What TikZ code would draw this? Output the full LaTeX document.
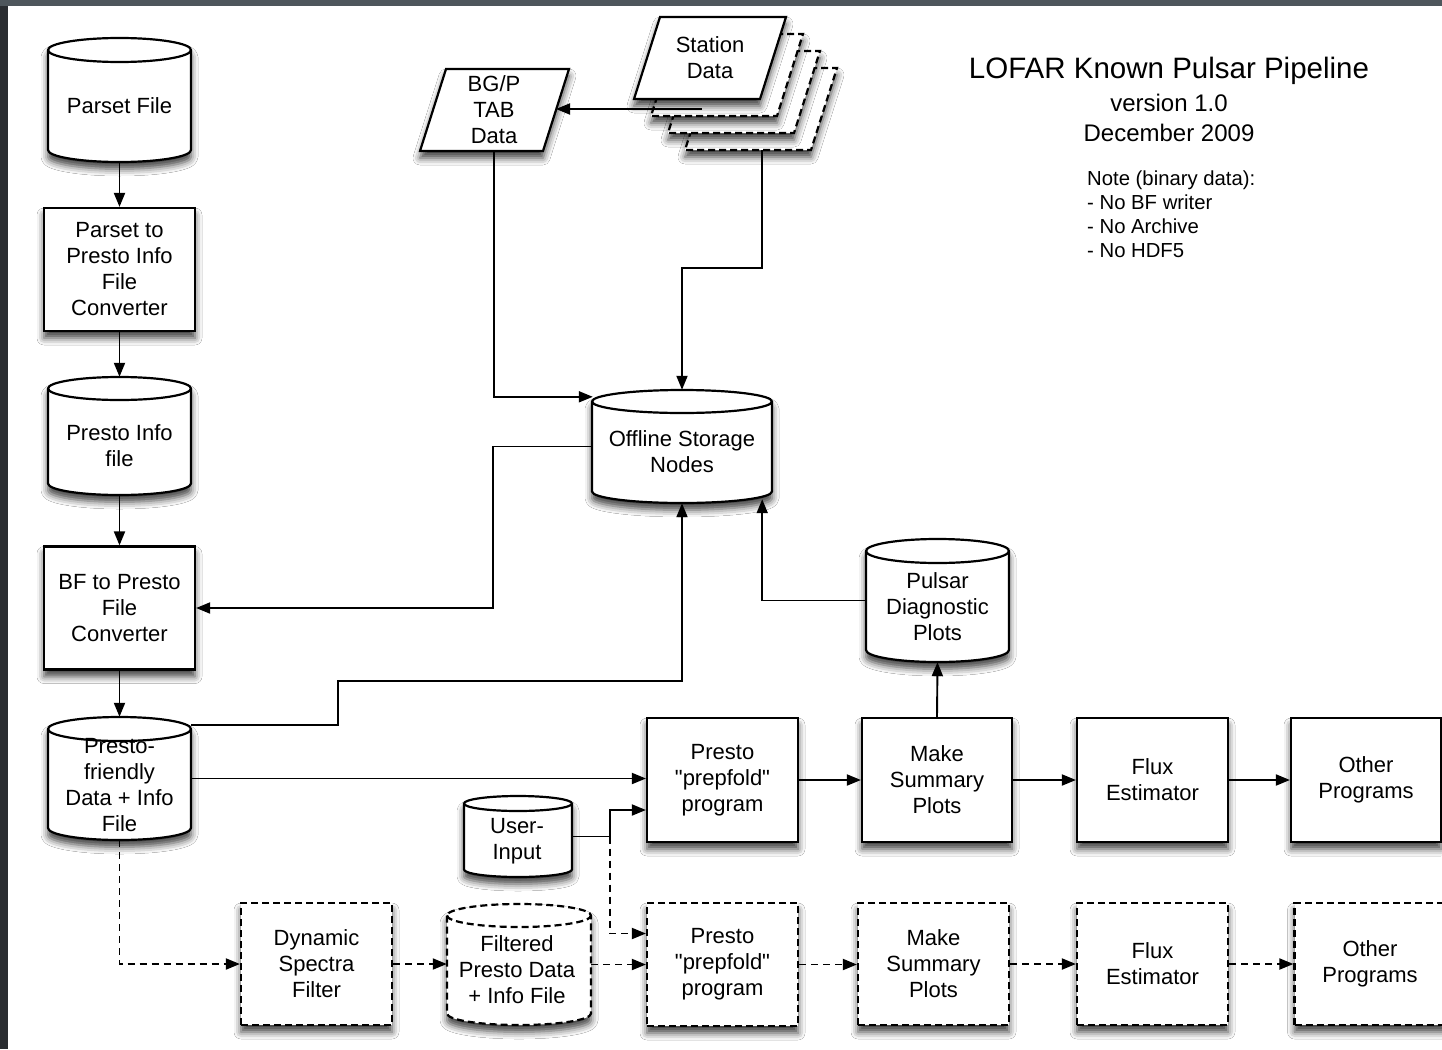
\documentclass[tikz,border=0pt]{standalone}
\usepackage{fontspec}
\setmainfont{Liberation Sans}
\usetikzlibrary{arrows.meta,calc,shadows.blur}

\definecolor{bgdark}{RGB}{42,45,49}
\definecolor{bgtop}{RGB}{78,86,92}

\tikzset{
  shad/.style={blur shadow={shadow xshift=0pt, shadow yshift=-7pt, shadow blur radius=7pt, shadow opacity=75}},
  lbl/.style={font=\fontsize{22}{26}\selectfont, align=center, inner sep=0pt},
  procbox/.style={draw=black, line width=2.2pt, fill=white, minimum width=151pt, minimum height=123pt, inner sep=0pt, align=center, font=\fontsize{22}{26}\selectfont, shad},
  dbox/.style={procbox, dash pattern=on 7pt off 4pt},
  shp/.style={draw=black, line width=2.2pt, fill=white, shad},
  dshp/.style={shp, dash pattern=on 7pt off 4pt},
  holder/.style={draw=none, inner sep=0pt, rectangle},
  cylbody/.style={draw=black, line width=2.2pt, fill=white, shad},
  cylline/.style={draw=black, line width=2.2pt},
  conn/.style={draw=black, line width=1.9pt, -{Triangle[length=14pt,width=11pt]}},
  dconn/.style={conn, dash pattern=on 7pt off 5pt},
}

% #1 x1, #2 y1 (top), #3 x2, #4 y2 (bottom), #5 ellipse half height, #6 extra style
\newcommand\DrawCyl[6]{%
  \pgfmathsetmacro\cylXc{(#1+#3)/2}%
  \pgfmathsetmacro\cylKx{0.5523*(#3-#1)/2}%
  \pgfmathsetmacro\cylKe{0.5523*#5}%
  \pgfmathsetmacro\cylYt{#2+#5}%
  \pgfmathsetmacro\cylYb{#4-#5}%
  \pgfmathsetmacro\cylYf{#2+2*#5}%
  \path[cylbody,#6] (#1,\cylYt) -- (#1,\cylYb)
     .. controls (#1,\cylYb+\cylKe) and (\cylXc-\cylKx,#4) .. (\cylXc,#4)
     .. controls (\cylXc+\cylKx,#4) and (#3,\cylYb+\cylKe) .. (#3,\cylYb)
     -- (#3,\cylYt)
     .. controls (#3,\cylYt-\cylKe) and (\cylXc+\cylKx,#2) .. (\cylXc,#2)
     .. controls (\cylXc-\cylKx,#2) and (#1,\cylYt-\cylKe) .. (#1,\cylYt) -- cycle;
  \path[cylline,#6] (#1,\cylYt)
     .. controls (#1,\cylYt+\cylKe) and (\cylXc-\cylKx,\cylYf) .. (\cylXc,\cylYf)
     .. controls (\cylXc+\cylKx,\cylYf) and (#3,\cylYt+\cylKe) .. (#3,\cylYt);
}
\newcommand\qq{\XeTeXglyph\XeTeXcharglyph"22\relax}

\begin{document}
\begin{tikzpicture}[x=1pt,y=-1pt]
\useasboundingbox (0,0) rectangle (1442,1049);
% frame
\fill[bgdark] (0,0) rectangle (1442,1049);
\fill[bgtop] (0,0) rectangle (1442,6);
\fill[white] (8,6) rectangle (1442,1049);

% ---------- title ----------
\node[font=\fontsize{29.5}{34}\selectfont, inner sep=0pt] (title) at (1169,71) {LOFAR Known Pulsar Pipeline};
\node[font=\fontsize{24}{30}\selectfont, align=center, inner sep=0pt] (ver) at (1169,118) {version 1.0\\December 2009};
\node[font=\fontsize{20.3}{24}\selectfont, align=left, anchor=north west, inner sep=0pt] (note) at (1087,171) {Note (binary data):\\- No BF writer\\- No Archive\\- No HDF5};

% ---------- data shapes (parallelograms) ----------
\path[shp] (446,69) -- (569,69) -- (543,151) -- (420,151) -- cycle;
\node[lbl, minimum width=100pt, minimum height=82pt] (bgp) at (494,110) {BG/P\\TAB\\Data};

\foreach \d in {51,34,17}
  \path[dshp] (660+\d,17+\d) -- (786+\d,17+\d) -- (760+\d,99+\d) -- (634+\d,99+\d) -- cycle;
\path[shp] (660,17) -- (786,17) -- (760,99) -- (634,99) -- cycle;
\node[lbl, minimum width=100pt, minimum height=82pt] (station) at (710,58) {Station\\Data};
\coordinate (st-out) at (702,109);
\coordinate (bgp-in) at (556,109);
\coordinate (st-bot) at (762,150);

% ---------- cylinders ----------
\DrawCyl{48}{38}{191}{162}{12}{}
\node[holder, minimum width=143pt, minimum height=124pt] (pfile) at (119.5,100) {};
\node[lbl] (pfile-t) at (119.5,106) {Parset File};

\DrawCyl{48}{377}{191}{495}{11.5}{}
\node[holder, minimum width=143pt, minimum height=118pt] (pinfo) at (119.5,436) {};
\node[lbl] (pinfo-t) at (119.5,446) {Presto Info\\file};

\DrawCyl{48}{717}{191}{840}{12}{}
\node[holder, minimum width=143pt, minimum height=123pt] (pfr) at (119.5,778.5) {};
\node[lbl] (pfr-t) at (119.5,785) {Presto-\\friendly\\Data + Info\\File};

\DrawCyl{592}{390}{772}{503}{11.5}{}
\node[holder, minimum width=180pt, minimum height=113pt] (off) at (682,446.5) {};
\node[lbl] (off-t) at (682,452) {Offline Storage\\Nodes};

\DrawCyl{866}{539}{1009}{662}{12}{}
\node[holder, minimum width=143pt, minimum height=123pt] (pul) at (937.5,600.5) {};
\node[lbl] (pul-t) at (937.5,607) {Pulsar\\Diagnostic\\Plots};

\DrawCyl{464}{796}{572}{877}{7.5}{}
\node[holder, minimum width=108pt, minimum height=81pt] (user) at (518,836.5) {};
\node[lbl] (user-t) at (517,841) {User-\\Input};

\DrawCyl{447}{904}{591}{1025}{11.5}{dash pattern=on 7pt off 4pt}
\node[holder, minimum width=144pt, minimum height=121pt] (filt) at (519,964.5) {};
\node[lbl] (filt-t) at (517,970) {Filtered\\Presto Data\\+ Info File};

% ---------- process boxes ----------
\node[procbox] (pic) at (119.5,269.5) {Parset to\\Presto Info\\File\\Converter};
\node[procbox] (bf) at (119.5,608) {BF to Presto\\File\\Converter};

\node[procbox, minimum height=124pt] (presto1) at (722.5,780) {Presto\\\qq prepfold\qq\\program};
\node[procbox, minimum width=150pt, minimum height=124pt] (make1) at (937,780) {Make\\Summary\\Plots};
\node[procbox, minimum height=124pt] (flux1) at (1152.5,780) {Flux\\Estimator};
\node[procbox, minimum width=150pt, minimum height=124pt] (other1) at (1366,780) {Other\\Programs};

\node[dbox, minimum height=122pt] (dyn) at (316.5,964) {Dynamic\\Spectra\\Filter};
\node[dbox, minimum height=123pt] (presto2) at (722.5,964.5) {Presto\\\qq prepfold\qq\\program};
\node[dbox, minimum height=122pt] (make2) at (933.5,964) {Make\\Summary\\Plots};
\node[dbox, minimum height=122pt] (flux2) at (1152.5,964) {Flux\\Estimator};
\node[dbox, minimum height=122pt] (other2) at (1370,964) {Other\\Programs};

% ---------- connectors ----------
\draw[conn] (pfile.south) -- (pic.north);
\draw[conn] (pic.south) -- (pinfo.north);
\draw[conn] (pinfo.south) -- (bf.north);
\draw[conn] (bf.south) -- (pfr.north);

\draw[conn] (st-out) -- (bgp-in);
\draw[conn] (st-bot) -- ++(0,118) -| (off.north);
\draw[conn] (bgp.south) |- ($(off.north west)+(1,7)$);
\draw[conn] (off.west) -- ++(-99,0) |- (bf.east);
\draw[conn] ($(pfr.north east)+(0,8)$) -- ++(147,0) -- ++(0,-44) -| (off.south);
\draw[conn] (pul.west) -| ($(off.south east)+(-10,-4)$);
\draw[conn] (make1.north) -- (pul.south);

\draw[conn] (pfr.east) -- (pfr.east -| presto1.west);
\draw[conn] (user.east) -- ++(38,0) coordinate (uj) |- ($(presto1.west)+(0,30)$);
\draw[conn] (presto1.east) -- (make1.west);
\draw[conn] (make1.east) -- (flux1.west);
\draw[conn] (flux1.east) -- (other1.west);

\draw[dconn] (uj) |- ($(presto2.west)+(0,-31)$);
\draw[dconn] (pfr.south) |- (dyn.west);
\draw[dconn] (dyn.east) -- (dyn.east -| filt.west);
\draw[dconn] (filt.east) -- (filt.east -| presto2.west);
\draw[dconn] (presto2.east) -- (presto2.east -| make2.west);
\draw[dconn] (make2.east) -- (make2.east -| flux2.west);
\draw[dconn] (flux2.east) -- (flux2.east -| other2.west);
\end{tikzpicture}
\end{document}
